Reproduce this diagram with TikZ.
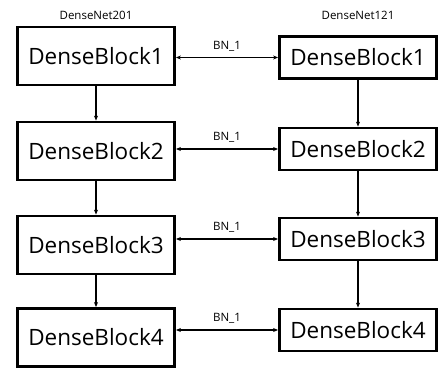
\documentclass[tikz,border=0pt]{standalone}
\usepackage{fontspec}
\setmainfont{Open Sans}
\usetikzlibrary{arrows.meta}
\begin{document}
\begin{tikzpicture}[x=1pt,y=-1pt,
  lbox/.style={draw,line width=2.8pt,minimum width=157pt,minimum height=58pt,inner sep=0pt,font=\fontsize{22.5}{26}\selectfont},
  rbox/.style={draw,line width=2.8pt,minimum width=157pt,minimum height=42pt,inner sep=0pt,font=\fontsize{22.5}{26}\selectfont},
  conn/.style={line width=1.3pt,-{Stealth[length=5pt,width=4pt]}},
  biconn/.style={line width=1.3pt,{Stealth[length=5pt,width=4pt]}-{Stealth[length=5pt,width=4pt]}},
  lab/.style={font=\fontsize{11.5}{13}\selectfont,inner sep=0pt},
]
\useasboundingbox (0,0) rectangle (440,370);
\node[lab] (t1) at (96,15) {DenseNet201};
\node[lab] (t2) at (358,15) {DenseNet121};
\node[lbox] (l1) at (96,56) {DenseBlock1};
\node[lbox] (l2) at (96,151) {DenseBlock2};
\node[lbox] (l3) at (96,245) {DenseBlock3};
\node[lbox] (l4) at (96,337.5) {DenseBlock4};
\node[rbox] (r1) at (358,57.5) {DenseBlock1};
\node[rbox] (r2) at (358,149) {DenseBlock2};
\node[rbox] (r3) at (358,239) {DenseBlock3};
\node[rbox] (r4) at (358,330) {DenseBlock4};
\foreach \a/\b in {l1/l2,l2/l3,l3/l4,r1/r2,r2/r3,r3/r4}{
  \draw[conn] (\a.south) -- (\b.north);
}
\foreach \i in {1,2,3,4}{
  \draw[biconn] (l\i.east |- r\i.west) -- node[lab,above=6pt] (b\i) {BN\_1} (r\i.west);
}
\end{tikzpicture}
\end{document}
